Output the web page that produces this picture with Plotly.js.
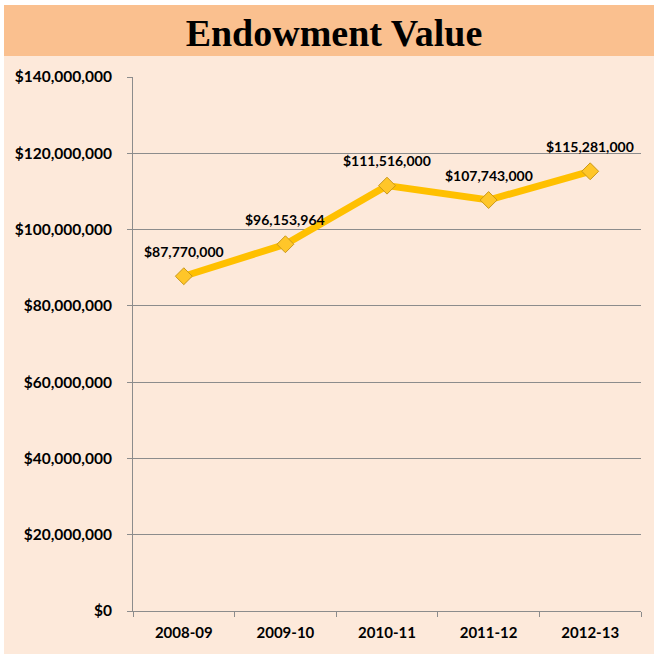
<!DOCTYPE html>
<html>
<head>
<meta charset="utf-8">
<script src="https://cdn.plot.ly/plotly-3.0.1.min.js"></script>
<style>html,body{margin:0;padding:0;background:#fff;}#chart{width:654px;height:654px;}</style>
</head>
<body>
<div id="chart"></div>
<script>
const categories = ["2008-09", "2009-10", "2010-11", "2011-12", "2012-13"];
const endowment = [87770000, 96153964, 111516000, 107743000, 115281000];
const chartTitle = "Endowment Value";

const fmt = v => "$" + v.toLocaleString("en-US");

const L = 133, R = 13, T = 77, B = 43, W = 654, H = 654;
const pw = W - L - R, ph = H - T - B;
const px = p => (p - L) / pw;
const py = p => (H - B - p) / ph;

const trace = {
  x: categories,
  y: endowment,
  type: "scatter",
  mode: "lines+markers",
  line: {color: "#FFC000", width: 7},
  marker: {symbol: "diamond", size: 13, color: "#FFC629", line: {color: "#C9981C", width: 1}},
  hoverinfo: "skip"
};

const annotations = categories.map((c, i) => ({
  x: c, y: endowment[i], xref: "x", yref: "y",
  text: fmt(endowment[i]), showarrow: false, yshift: 25,
  font: {family: "Lato", size: 14, color: "#000", weight: "bold"}
}));

const layout = {
  width: W, height: H,
  margin: {l: L, r: R, t: T, b: B, pad: 0},
  paper_bgcolor: "#ffffff",
  plot_bgcolor: "#FDE9DA",
  showlegend: false,
  title: {
    text: "<b>" + chartTitle + "</b>",
    x: (188 + 480) / 2 / W, xanchor: "center",
    y: 1 - 33 / H, yanchor: "middle", yref: "container",
    font: {family: "Liberation Serif", size: 38, color: "#000"}
  },
  shapes: [
    {type: "rect", xref: "paper", yref: "paper", x0: px(4), x1: px(660), y0: py(660), y1: py(5),
     fillcolor: "#FDE9DA", line: {width: 0}, layer: "below"},
    {type: "rect", xref: "paper", yref: "paper", x0: px(4), x1: px(660), y0: py(56), y1: py(5),
     fillcolor: "#FAC08F", line: {width: 0}, layer: "below"}
  ],
  xaxis: {
    type: "category",
    range: [-0.5, categories.length - 0.5],
    tickson: "boundaries",
    ticks: "outside", ticklen: 5, tickcolor: "#8C8C8C", tickwidth: 1,
    showline: true, linecolor: "#8C8C8C", linewidth: 1,
    showgrid: false, zeroline: false,
    tickfont: {family: "Lato", size: 15, color: "#000", weight: "bold"},
    ticklabelstandoff: 8,
    fixedrange: true
  },
  yaxis: {
    range: [0, 140000000], dtick: 20000000, tick0: 0,
    tickformat: "$,.0f",
    ticks: "outside", ticklen: 5, tickcolor: "#8C8C8C", tickwidth: 1,
    showline: true, linecolor: "#8C8C8C", linewidth: 1,
    showgrid: true, gridcolor: "#8C8C8C", gridwidth: 1,
    zeroline: false,
    tickfont: {family: "Lato", size: 15.5, color: "#000", weight: "bold"},
    ticklabelstandoff: 12,
    fixedrange: true
  },
  annotations: annotations
};

Plotly.newPlot("chart", [trace], layout, {displayModeBar: false, staticPlot: true});
</script>
</body>
</html>
